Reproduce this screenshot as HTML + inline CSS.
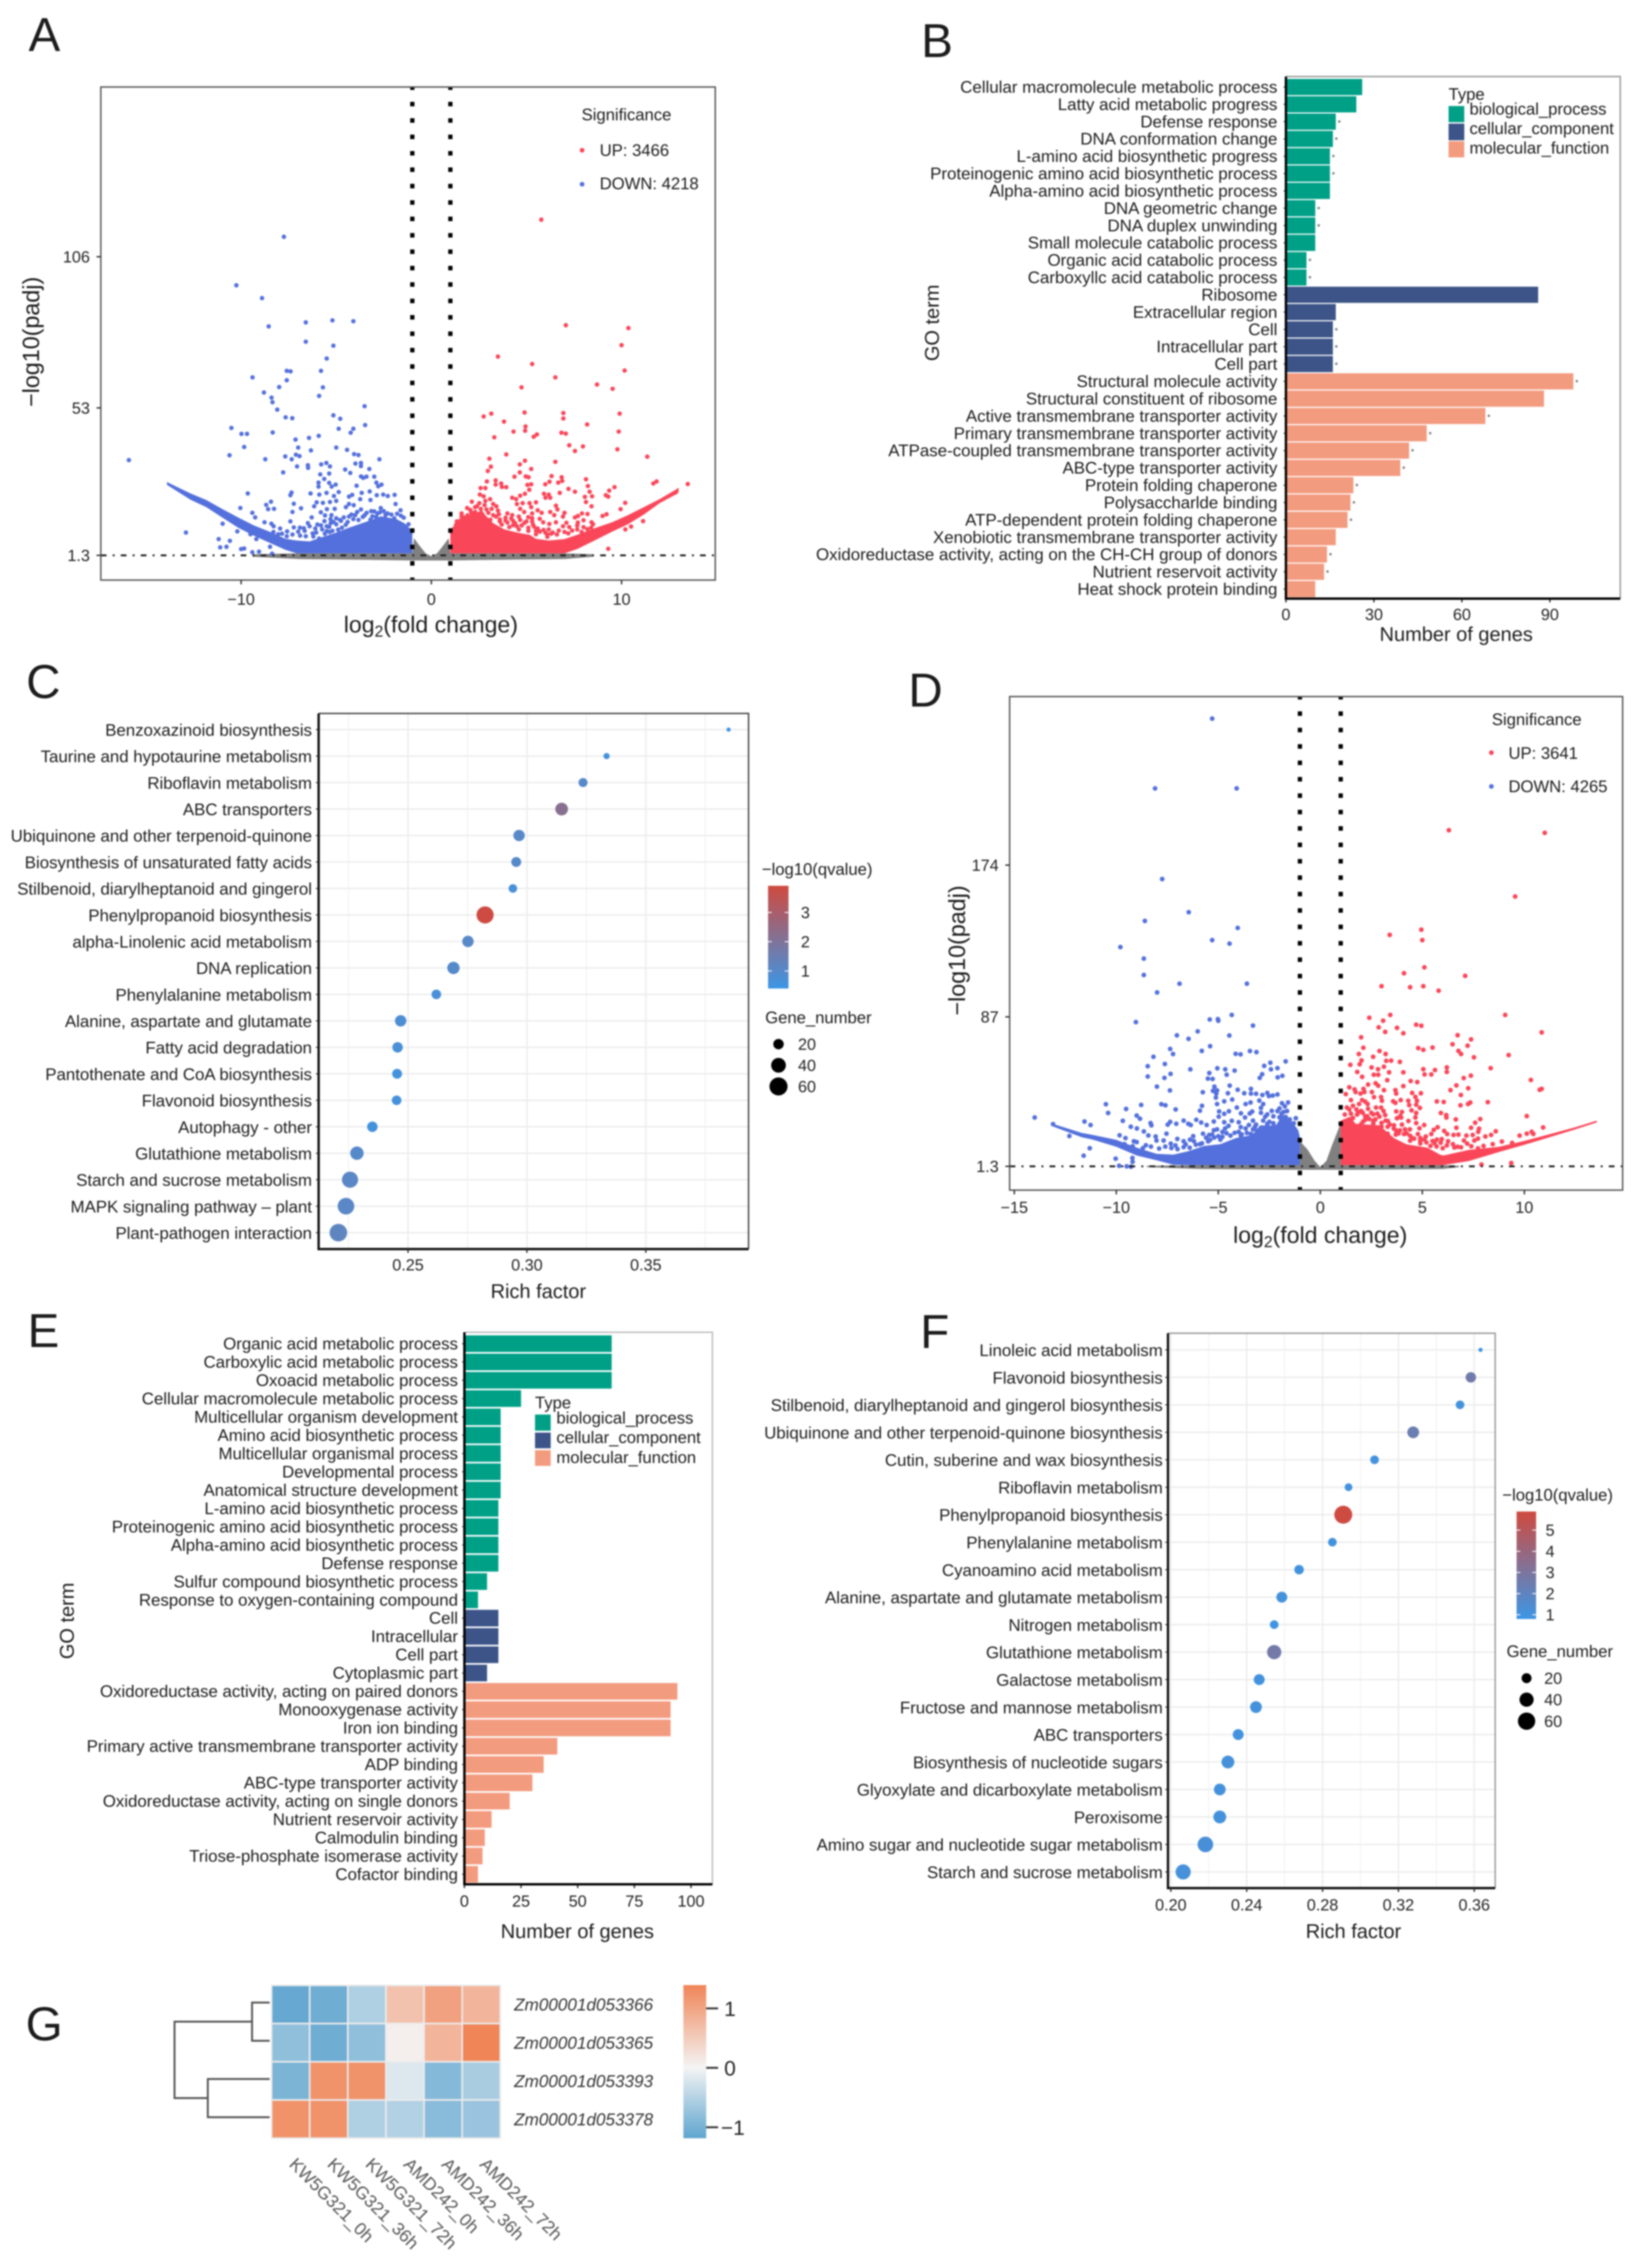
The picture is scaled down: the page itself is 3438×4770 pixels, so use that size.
<!DOCTYPE html>
<html lang="en">
<head>
<meta charset="utf-8">
<title>Transcriptome analysis figure panels A–G</title>
<style>
html,body{margin:0;padding:0;background:#fff;}
#figure{display:block;width:3438px;height:4770px;filter:blur(1.6px);font-family:"Liberation Sans",Arial,sans-serif;fill:#1c1c1c;}
</style>
</head>
<body>
<svg id="figure" xmlns="http://www.w3.org/2000/svg" width="3438" height="4770" viewBox="0 0 3438 4770">
  <rect x="0" y="0" width="3438" height="4770" fill="#fff"/>
  <text x="60" y="107" font-size="100">A</text>
  <text x="1937" y="120" font-size="100">B</text>
  <text x="55" y="1468" font-size="100">C</text>
  <text x="1910" y="1486" font-size="100">D</text>
  <text x="58" y="2833" font-size="100">E</text>
  <text x="1935" y="2835" font-size="100">F</text>
  <text x="54" y="4291" font-size="100">G</text>

  <g id="panelA"></g>
  <g id="panelB"></g>
  <g id="panelC"></g>
  <g id="panelD"></g>
  <g id="panelE"></g>
  <g id="panelF"></g>
  <g id="panelG"></g>

  <!-- Panel A static text -->
  <text x="906" y="1330" font-size="48.5" text-anchor="middle">log<tspan dy="9" font-size="33">2</tspan><tspan dy="-9">(fold change)</tspan></text>
  <text transform="translate(82,719) rotate(-90)" font-size="49" text-anchor="middle">−log10(padj)</text>
  <text x="1223" y="253" font-size="35">Significance</text>
  <circle cx="1224" cy="316" r="5" fill="#FA4659"/>
  <text x="1261" y="328" font-size="35">UP: 3466</text>
  <circle cx="1224" cy="387.5" r="5" fill="#5470DC"/>
  <text x="1261" y="398" font-size="35">DOWN: 4218</text>

  <!-- Panel B static text -->
  <text x="3062" y="1348" font-size="42" text-anchor="middle">Number of genes</text>
  <text transform="translate(1974,679) rotate(-90)" font-size="42" text-anchor="middle">GO term</text>
  <text x="3046" y="210" font-size="35">Type</text>
  <rect x="3046" y="223" width="33" height="34" fill="#00A087"/>
  <rect x="3046" y="260" width="33" height="35" fill="#3C5488"/>
  <rect x="3046" y="297" width="33" height="34" fill="#F39B7F"/>
  <text x="3090" y="241" font-size="35">biological_process</text>
  <text x="3090" y="282" font-size="35">cellular_component</text>
  <text x="3090" y="323" font-size="35">molecular_function</text>

  <!-- Panel C static text -->
  <text x="1132" y="2730" font-size="42" text-anchor="middle">Rich factor</text>
  <text x="1602" y="1840" font-size="35">−log10(qvalue)</text>
  <text x="1609" y="2152" font-size="35">Gene_number</text>

  <!-- Panel D static text -->
  <text x="2776" y="2614" font-size="48.5" text-anchor="middle">log<tspan dy="9" font-size="33">2</tspan><tspan dy="-9">(fold change)</tspan></text>
  <text transform="translate(2029,1999) rotate(-90)" font-size="49" text-anchor="middle">−log10(padj)</text>
  <text x="3137" y="1525" font-size="35">Significance</text>
  <circle cx="3136" cy="1583" r="5" fill="#FA4659"/>
  <text x="3172" y="1596" font-size="35">UP: 3641</text>
  <circle cx="3136" cy="1654" r="5" fill="#5470DC"/>
  <text x="3172" y="1666" font-size="35">DOWN: 4265</text>

  <!-- Panel E static text -->
  <text x="1214" y="4076" font-size="42" text-anchor="middle">Number of genes</text>
  <text transform="translate(155,3409) rotate(-90)" font-size="42" text-anchor="middle">GO term</text>
  <text x="1125" y="2962" font-size="35">Type</text>
  <rect x="1125" y="2975" width="33" height="34" fill="#00A087"/>
  <rect x="1125" y="3013" width="33" height="33" fill="#3C5488"/>
  <rect x="1125" y="3050" width="33" height="33" fill="#F39B7F"/>
  <text x="1170" y="2994" font-size="35">biological_process</text>
  <text x="1170" y="3035" font-size="35">cellular_component</text>
  <text x="1170" y="3077" font-size="35">molecular_function</text>

  <!-- Panel F static text -->
  <text x="2846" y="4076" font-size="42" text-anchor="middle">Rich factor</text>
  <text x="3159" y="3156" font-size="35">−log10(qvalue)</text>
  <text x="3168" y="3485" font-size="35">Gene_number</text>
</svg>

<script>
/* ---------- Panel A data: log2 fold change, -log10(padj) ---------- */
const aDownPoints = [[-7.75,113],[-10.25,96],[-8.9,91.5],[-8.55,81.6],[-6.6,83],[-5.2,83.7],[-4.1,83.4],[-6.6,76.2],[-5.15,74.8],[-5.5,70.3],[-7.6,66],[-7.4,65.8],[-5.8,66],[-9.4,63.7],[-7.6,62.7],[-8,60.3],[-8.8,58.4],[-5.7,60.2],[-5.9,57.2],[-8.4,56.6],[-8.35,55],[-15.9,34.7],[-12.9,9.3],
[-10.51,45.97],[-9.98,43.9],[-9.69,43.9],[-9.84,39.3],[-10.61,36.4],[-8.73,35],[-8.34,44.4],[-8.1,52.4],[-7.66,49.7],[-7.31,49.4],[-7.14,41.9],[-6.43,42.5],[-5.92,43.2],[-7,39.1],[-6.33,38.1],[-7.68,36],[-7.34,35],[-7.12,36.6],[-6.93,36.1],[-7.06,32.5],[-6.49,32.9],[-6.48,32],[-7.79,30.4],[-5.15,50.4],[-4.79,49.2],[-4.87,45.7],[-3.51,53.6],[-3.48,47],[-4.1,45.7],[-4.24,44.3],[-5,39.1],[-4.43,38.3],[-4.06,36.8],[-3.83,36.5],[-2.73,35],[-5.79,33.2],[-5.52,33.7],[-5.33,32.5],[-3.99,33.5],[-3.7,33.7],[-3.7,32.6],[-3.26,31.6],[-4.53,31.4],[-4.26,30.2],[-5.84,29.7],[-5.37,30],[-5.63,28.1],[-3.7,29],[-3.58,28.5],[-3.41,28.9],[-3,28.9],[-5.93,26.8],[-5.93,25.4],[-5.37,26.7],[-5.24,25.4],[-5.03,26.1],[-3.93,25.7],[-2.89,26.8],[-2.79,25.5],[-2.62,26.1],[-7.35,23.3],[-7.41,22.4],[-9.65,23],[-6.35,23],[-5.89,22.6],[-5.51,23.2],[-4.87,23.5],[-5.12,22.1],[-4.16,22.5],[-4.33,21.9],[-3.66,23.2],[-3.74,21],[-3.24,23.7],[-3.2,20.7],[-2.87,22.4],[-2.53,22.6],[-2.29,22.1],[-1.93,22.5],[-8.43,20.1],[-8.68,19],[-8.58,17.5],[-8.27,17.6],[-10.04,17.9],[-7.23,19.4],[-6.85,17.8],[-6.03,19.9],[-5.7,19.7],[-5.33,20],[-5,20.4],[-6.16,18.5],[-4.33,19.3],[-4.49,18.2],[-4.08,18.9],[-1.88,19.3],[-3.7,17.4],[-3.16,16.8],[-2.66,17.9],[-7.3,16.5],[-5.49,17.5],[-5.08,17.6],[-1.62,17.1],[-9.41,16.2],[-9.26,14.6],[-5.81,16.4],[-5.59,15.3],[-7.41,13.2],[-7.23,11.1],[-8.77,12.9],[-8.41,12.4],[-8.29,11.5],[-10.97,12.4],[-6.29,14.6],[-6.49,12.6],[-5.99,12.1],[-5.62,13.3],[-10.2,9.7],[-7.95,10.7],[-7.58,9.7],[-6.91,11],[-6.66,9.9],[-6.24,9],[-5.74,10.4],[-11.18,7],[-10.59,6.4],[-11.1,4.1],[-10.77,4.3],[-10,3.5],[-9.84,3.7],[-9.41,2.4],[-9.06,2.6],[-8.48,4.3],[-8.37,1.9],[-9.2,7],[-9.51,8.7],
[-5.25,15.4],[-5,14.3],[-4.75,13.4],[-5.29,12.6],[-5.37,11.3],[-4.33,14.9],[-4,15.4],[-3.5,15.4],[-3.83,13.7],[-2.83,16],[-2.41,15.4],[-1.95,14.3],
[-5.3,14],[-5.15,13],[-5,12.2],[-4.8,13.7],[-4.6,14.6],[-4.4,13],[-4.2,15.6],[-4.1,14],[-3.9,16.5],[-3.6,14.8],[-3.4,16.2],[-3.1,15],[-3,16.7],[-2.9,14.8],[-2.7,16.4],[-2.5,16.8],[-2.3,16],[-2.1,15.6],[-1.8,15.9],[-1.6,15.2],[-1.45,14.5],[-1.2,12.2],[-5.5,11.5],[-5.8,11.8],[-6.1,10.7],[-6.4,11.5],[-6.7,10.8],[-7,9.6],[-7.3,8.6],[-7.6,8],[-6.05,9.3],[-5.5,9.8],[-5.2,9.9],[-4.7,11],[-4.5,12],[-3.2,13.8],[-8.05,8.7],[-8.3,9.5],[-7.85,8.9],[-6.9,8.2],[-6.6,8],[-6.2,7.9],[-5.9,7.2],[-5.6,8.9],[-5.35,9.5],[-4.9,10.3]];
const aUpPoints = [[5.78,119],[7.07,82],[10.36,81],[10,75],[3.5,71],[5.3,68.4],[10.16,66.1],[6.52,63.7],[8.71,61.2],[4.74,60.2],[9.53,59.7],[13.48,26.3],[12.85,23.4],
[2.75,50],[3.15,51],[3.82,48.2],[4.9,51.4],[6.94,51.2],[6.94,49.3],[9.9,51],[8.19,47.2],[4.32,44.7],[4.95,46.5],[4.93,45],[3.31,42.7],[5.38,42.9],[5.55,43.7],[6.84,44.3],[7.07,44],[9.85,44.7],[7.25,39.9],[7.55,37.9],[7.97,39.5],[9.78,38.5],[3.94,36.7],[3.05,35.2],[11.35,35.9],[4.92,34.5],[4.65,33.2],[6.52,34.1],[3.13,32.4],[2.97,30.9],[5.25,31.6],[4.65,30.4],[4.37,28.9],[4.96,29],[5.11,28.7],[6.32,29.1],[6.85,28.7],[6.67,26.8],[6.88,27.4],[8.13,28],[2.92,27.2],[3.38,27.6],[3.38,26.1],[3.67,26.5],[3.71,25.3],[3.94,25.2],[11.84,27.2],[11.67,26.5],[5.05,26],[5.25,26.2],[5.99,26.2],[6.21,27.1],[7.21,24.6],[7.55,23.6],[8.23,25.6],[8.32,23.6],[8.45,22],[9.63,25.2],[9.35,24],[9.17,22.4],[9.3,21.9],[2.59,24.9],[2.84,24.9],[2.55,22.6],[2.75,22],[5.15,24.3],[4.92,22.9],[4.67,22.2],[4.25,21.5],[4.46,21],[6.75,23.2],[5.92,22.9],[6.17,22.6],[6,21.5],[6.25,21.5],[8.07,21.8],[8.13,20],[8.42,18.5],[10.19,19.7],[9.95,17.5],[3.09,21],[2.13,20.1],[2.52,19.6],[2.84,20.4],[3.25,19.3],[3.42,18.5],[1.88,17.9],[1.59,16],[4.5,19.3],[4.8,19.6],[5.16,19.6],[5.5,19.9],[6.55,18.7],[6.63,17.4],[7,16.2],[6.25,16.5],[6.46,15.4],[6.92,14.9],[7.92,16],[8.21,15.8],[7.55,14.6],[7.71,15.1],[9,15.1],[9.21,15.7],[4.67,17.6],[4.88,16.5],[5.25,18.2],[5.3,16],[5.59,17.1],[5.8,16.2],[5.3,14.3],[3.17,17.6],[3.25,15.4],[3.55,15.7],[4,16],[4.25,15.4],[1.34,13.2],[1.59,14.9],[5.88,12.9],[6.55,12.9],[8.42,12.9],[8.5,12.2],[11.13,13.3],[5.34,12.1],[5.59,10.7],[6.92,11.5],[7.25,11.2],[7.67,11.8],[8,11.2],[7.67,10.4],[4.67,13.7],[4.5,11.5],[4.75,11.8],[6.17,10.4],[6.38,9.3],[5.5,8.7],[6.09,8.7],[10.5,11.4],[10.2,10.4],[9.3,3.6],
[3.6,13.9],[4,12.8],[4.3,11.9],[3.9,14.5],[4.3,13.4],[5,13.2],[5.1,11],[2.3,18.2],[2.05,17.2],
[1.3,12],[1.5,13.4],[1.7,14.6],[1.9,15.3],[2.1,16.2],[2.3,16.5],[2.6,17.6],[2.9,17.4],[3,16.2],[3.4,14.9],[3.6,13.2],[3.7,12.1],[3.9,13.5],[4.1,11.2],[4.4,12.6],[4.6,10.4],[4.9,12.7],[5.1,9.9],[5.3,13.2],[5.4,11.4],[5.5,10],[5.7,9.6],[5.9,10.2],[6,9.2],[6.3,8.9],[6.6,8.6],[6.7,10],[7,9.5],[7.2,9],[7.4,10],[7.9,9.5],[8.2,10.5],[8.4,11],[4.2,14.2],[4.6,14.9],[5.1,14.7],[5.7,14.1],[6.2,12.3],[7.1,12.7],[7.7,12.8],[8,13.6],[3.1,13.8],[2.4,18.5],[2.8,18.9],[3.5,17],[6.1,7.8]];
const aDownBandX = [-13.9,-12.66,-11.83,-11,-10.16,-9.33,-8.5,-7.66,-7.08,-6.4,-5.6,-5,-4.33,-3.5,-3.24,-2.66,-1.83,-1.4,-1];
const aDownBandTop = [27,23,20.7,17.6,14.6,11.8,9.6,7.1,6.5,6.2,8,9.3,11,12.9,13.5,15,14,12.5,9.9];
const aDownBandBottom = [26,20.8,18.2,14.6,11,8.2,5.7,3.2,2,2,2,2,2,2,2,2,2,2,2];
const aUpBandX = [1,1.59,2.67,2.84,3.25,3.84,4.5,5.17,5.5,6.17,7,7.67,8.67,9.5,10.34,11.17,12,12.84,13];
const aUpBandTop = [10.4,14.3,17.1,15.4,12.6,10.4,9.3,8.5,7.1,6.5,7,8.5,11,12.9,15.4,18.2,21,24.3,25];
const aUpBandBottom = [2,2,2,2,2,2,2,2,2,2,2,3.5,6.8,9.6,12.2,15.6,19.6,22.6,23.5];
const aGreyX = [-9.4,-7,-3,-1,-0.91,-0.6,-0.3,0,0.3,0.6,0.91,1,3,7,8.5];
const aGreyTop = [1.7,2,2,2,7.3,4.5,2,1,2,4.5,7.3,2,2,2,1.7];
const aGreyBottom = [0.8,0,-0.3,-0.5,-0.5,-0.5,-0.5,-0.5,-0.5,-0.5,-0.5,-0.5,-0.3,0,0.8];
const aXTicks = [-10,0,10];
const aXTickLabels = ["−10","0","10"];
const aYTicks = [1.3,53,106];
const aYTickLabels = ["1.3","53","106"];

/* ---------- Panel D data ---------- */
const dDownPoints = [[-5.3,258],[-8.1,218],[-4.1,218],[-7.75,166],[-6.45,147],[-8.6,142],[-4.05,138],[-5.3,131],[-4.45,129],[-9.8,127],[-8.65,120.4],[-8.65,111],[-6.9,106],[-3.6,106],[-8,101],[-14,29.3],[-13.1,25.5],[-11.56,27],[-11.26,25],[-12.3,18.7],[-11.6,7.4],[-11.3,11.7],
[-9.04,84],[-4.34,88.1],[-5.42,85.5],[-5.02,85.7],[-5,84.8],[-3.3,82],[-6.01,78.7],[-7.03,76.4],[-6.46,74.4],[-4.46,76.3],[-5.4,70.2],[-5.81,67.5],[-7.36,68.6],[-7.22,65.7],[-8.18,64.1],[-4.15,65.8],[-3.91,65.5],[-3.45,67.4],[-3.13,66.8],[-8.46,58.7],[-7.62,60],[-1.7,61.5],[-2.45,60.7],[-2.75,58.9],[-2.42,56.9],[-2.1,57.6],[-6.37,56.9],[-5.05,57.5],[-4.66,56.9],[-4.2,56.2],[-5.44,54.8],[-4.59,53.8],[-8.46,52.8],[-7.64,52],[-7.34,54.3],[-5.51,51.6],[-5.28,51.4],[-2.85,54.1],[-2.97,52],[-2.09,52.3],[-1.86,53.2],[-8.01,47],[-5.19,47],[-4.44,47.6],[-7.37,44.8],[-5.76,43.8],[-5.26,44.6],[-5.06,44.8],[-5.1,43],[-5.12,40.7],[-4.53,43.2],[-4.05,45.2],[-3.73,43.2],[-3.4,45.7],[-3.4,43],[-3.15,42.9],[-2.84,42.2],[-2.6,43.4],[-2.52,41.6],[-2.33,41.9],[-2.1,42.5],[-4.71,38.6],[-4.32,39.6],[-2.99,39],[-2.8,37],[-1.88,37.5],[-1.58,37.9],[-1.74,35.7],[-10.51,36.9],[-10.4,31.9],[-9.52,34.2],[-8.78,36.5],[-7.79,36.9],[-7.59,36.3],[-7.09,33.9],[-5.8,36],[-5.9,33.2],[-5.06,37],[-3.66,37],[-3.42,37.9],[-4.09,35],[-4.96,32.8],[-4.71,31.4],[-4.48,32.9],[-3.89,31.7],[-3.69,29.3],[-3.46,31.6],[-3.34,32.7],[-2.91,34.8],[-2.91,32],[-2.6,31.1],[-2.38,33.1],[-1.63,33],[-1.2,28.9],[-4.98,29.8],[-9,30.4],[-8.84,28.6],[-9.68,27.4],[-8.32,26.1],[-8.28,24.8],[-7.48,25.2],[-7.36,26.8],[-7.06,25.7],[-6.7,27.5],[-6.47,25.7],[-6.35,25],[-6.08,28],[-5.84,26.4],[-5.57,25],[-5.22,27],[-4.71,26.6],[-4.34,27.4],[-4,26.6],[-3.3,27.5],[-9.29,24],[-8.99,23],[-8.65,21.3],[-8.43,19],[-9.84,19.1],[-9.55,17.5],[-8.07,18.4],[-8.03,16.1],[-7.54,20],[-6.23,18.6],[-5.75,20],[-5.45,19.3],[-9.14,15.7],[-9,15.2],[-8.55,13.4],[-7.68,16.1],[-7.33,14.3],[-7.01,17],[-6.7,15.7],[-6.39,16.6],[-10.03,5.7],[-9.21,6.1],[-9.2,3.9],[-9.86,1.6],[-9.49,1.3],[-9.28,1.1],[-5.06,22.5],[-4.67,23],[-5.22,22],[-4.9,16.6],[-4,21.1],[-3.66,23],[-3.15,25.2],[-2.8,27.5],[-1.9,31.6],[-5.9,14],[-5.4,16.5],[-3.85,19.6],[-3.3,22.5],[-2.5,26.8],[-2,29.4],
[-7.9,11.5],[-7.6,12.6],[-7.3,11.8],[-7,11.2],[-6.7,12.3],[-6.4,12],[-6.1,13.7],[-5.8,14.5],[-5.5,15.6],[-5.2,17.8],[-5,18.6],[-4.8,18.2],[-4.6,20.3],[-4.4,18.9],[-4.2,20.5],[-3.9,18.9],[-3.6,20.5],[-3.4,19.9],[-3.1,21.6],[-2.9,22.6],[-2.6,25.7],[-2.3,26],[-2.2,23.8],[-1.9,27.5],[-1.7,29.6],[-1.5,28.2],[-1.3,26],[-4.5,24.5],[-3.9,23.8],[-3.5,25],[-2.7,29.8],[-2.3,30],[-4.8,21],[-5.3,19.5],[-5.6,17.7],[-6.2,15.8],[-6.6,13.9],[-7.1,13.3],[-8.3,12.6],[-8.7,11.7],[-9.2,12.8],[-9.6,14],[-3.2,24],[-2.1,33],[-2,34.5],[-1.8,32.5]];
const dUpPoints = [[6.3,194],[11,192.5],[9.55,156],[4.95,137],[3.4,134],[5,131],[5.1,115.4],[4.1,112],[7.1,110.5],[3,104.6],[4.4,104],[5.05,104.6],[5.8,102],
[3.43,88.1],[2.4,86.5],[3.08,84.8],[2.86,81],[3.18,78.4],[3.76,80.7],[4.07,77.6],[4.7,82.5],[4.95,81.9],[9.06,88.1],[10.85,78.1],[2,75.3],[6.73,76.5],[7.39,74.1],[7.22,70.5],[6.48,71.3],[2.11,69.3],[4.8,69.1],[5.05,68.1],[5.5,69.4],[6.77,67.5],[6.9,65.7],[9.23,65.1],[2.9,67.4],[1.89,65.7],[3.2,65.7],[2.59,64.1],[7.53,63.8],[2.02,62],[1.93,59.8],[3.23,61.8],[3.47,61.9],[3.9,61.2],[1.47,59.5],[3.12,58.4],[2.51,58],[2.83,57],[5.05,57],[5.62,56.5],[6.2,58],[6.2,55.4],[8.35,57.6],[1.81,55.4],[3.37,55.2],[4.07,55.2],[2.62,53.8],[2.84,53.8],[5.11,54],[5.44,54],[2.05,52.6],[7.38,53.3],[7.03,51.9],[3.28,50.7],[4.43,50.2],[4.75,49.6],[10.32,50.8],[2.34,48.2],[2.71,48.9],[2.84,47.5],[4.07,47.3],[6.67,47.7],[7.25,46.1],[1.42,46.6],[1.68,45.4],[2.12,45.7],[6.38,45],[3.12,45],[2.53,43.9],[3.68,45],[3.72,43],[4.5,43.4],[4.93,43.2],[10.75,45.2],[10.85,45.7],[6.89,42.2],[1.25,42.7],[1.5,39.3],[1.73,43.9],[1.97,43],[2.16,43.9],[2.63,41],[2.98,41],[3.02,38.9],[4.66,41.1],[4.74,38.9],[3.57,38.6],[3.68,37.7],[3.94,39.3],[4.31,38.9],[4.36,36.4],[4.7,36.6],[4.88,34.8],[5.71,38.5],[6.05,38.2],[8.21,38.1],[6.87,36.3],[7.24,37],[7.35,37.9],[2.05,39.3],[2.2,38.4],[2.32,37],[2.73,35],[2.98,35],[1.42,33.9],[2.34,34.3],[4.47,33.4],[4.7,31.9],[3.72,32.8],[4,32.5],[3.92,30.2],[3.76,28.9],[3.96,29.3],[5.91,31.9],[6.17,30.7],[6.18,29.3],[10.12,30.1],[7.84,28.4],[7.59,26.3],[6.64,28.2],[2.9,29.8],[3.18,30.7],[2.59,31.1],[2.4,28.4],[1.77,33.9],[1.85,32],[2.08,32],[4.32,27.3],[3.31,27.3],[4.66,29.3],[4.7,26.1],[5.09,25],[4.86,23.1],[3.61,24.8],[4,25.2],[4.15,22.5],[4.39,22.5],[5.75,23.7],[5.56,22.2],[5.44,19.8],[6.07,21.6],[6.22,19.8],[6.67,23.4],[6.53,19.3],[6.77,19.5],[7.39,23.4],[7.78,22.9],[7.74,21.1],[7.47,19.3],[7.16,18.9],[8.6,21.4],[8.37,19.3],[8.09,18.4],[10.92,23.6],[10.12,20],[10.36,21.1],[10.44,19.9],[9.77,18.9],[3.84,20.2],[4.23,20.2],[4.78,19.8],[5.17,18.4],[5.71,16.6],[5.95,16.9],[6.26,15.7],[7.04,16.1],[7.55,16.1],[7.73,17.2],[6.57,12.1],[6.73,12.5],[7.2,14.3],[7.73,11.6],[8.45,14],[7.9,2.3],[9.36,3.2],
[2.6,27.5],[2.2,30],[2.1,27],[2.6,25.8],[3.3,24],[3.7,22],[4.5,17.5],[4.9,15.8],[5.2,15],[5.6,14.6],
[1.2,31],[1.5,31.5],[1.3,35],[1.6,29],[1.8,31],[2,33],[2.2,28],[2,25.5],[2.3,30],[2.7,28.2],[3,26.2],[3.2,27.5],[3.4,25.3],[3.6,23],[3,24],[2.6,26.5],[3.9,21.9],[4.1,19.8],[4.4,18.8],[4.6,17.2],[4.9,17.5],[5.1,16.7],[5.5,15.8],[5.9,14.8],[6.2,13.3],[6.5,14],[6.9,12.2],[7.4,12.8],[8,13],[8.9,15.5],[9.4,14.7],[3.3,20],[3.7,19.5],[4.4,16],[4.9,14.4],[5.4,13],[5.7,12.7],[6,11.7],[1.9,37],[1.6,36],[2.5,32],[2.8,31.5],[3.1,33],[1.4,28]];
const dDownBandX = [-13.07,-11.7,-11.15,-10,-9,-8.03,-7.2,-6.47,-5.69,-4.9,-4.15,-3.34,-2.95,-2.17,-1.86,-1.39,-1.08,-1];
const dDownBandTop = [25.5,20.5,19.3,16.5,12,8.5,8,10,13,14,17.5,19.3,24.8,24.8,31,27,22,18];
const dDownBandBottom = [24,18,16.6,12.5,7.5,4.8,2.2,2,2,2,2,2,2,2,2,2,2,2];
const dUpBandX = [1,1.46,1.73,2.9,3.61,4.23,5.25,5.87,6.03,7.27,8.76,9.93,11.1,12.5,13.55];
const dUpBandTop = [27.5,29.8,25.7,24.8,17.5,13.9,12,8,7.5,10.7,12.5,15.7,19.3,23.7,27.5];
const dUpBandBottom = [2,2,2,2,2,2,2,2,2,4.3,9.5,13.4,17.5,22.5,26.5];
const dGreyX = [-8.5,-6,-2,-1,-1,-0.63,-0.28,0,0.3,0.56,0.9,1,1,2,6,6.8];
const dGreyTop = [1.6,2,2,2,15.7,11,4.5,0.8,4.5,13,23,26,2,2,2,1.6];
const dGreyBottom = [0.8,-0.2,-0.7,-0.7,-0.7,-0.7,-0.7,-0.7,-0.7,-0.7,-0.7,-0.7,-0.7,-0.7,-0.2,0.8];
const dXTicks = [-15,-10,-5,0,5,10];
const dXTickLabels = ["−15","−10","−5","0","5","10"];
const dYTicks = [1.3,87,174];
const dYTickLabels = ["1.3","87","174"];

/* ---------- Panel B data ---------- */
const bTerms = ["Cellular macromolecule metabolic process","Latty acid metabolic progress","Defense response","DNA conformation change","L-amino acid biosynthetic progress","Proteinogenic amino acid biosynthetic process","Alpha-amino acid biosynthetic process","DNA geometric change","DNA duplex unwinding","Small molecule catabolic process","Organic acid catabolic process","Carboxyllc acid catabolic process","Ribosome","Extracellular region","Cell","Intracellular part","Cell part","Structural molecule activity","Structural constituent of ribosome","Active transmembrane transporter activity","Primary transmembrane transporter activity","ATPase-coupled transmembrane transporter activity","ABC-type transporter activity","Protein folding chaperone","Polysaccharlde binding","ATP-dependent protein folding chaperone","Xenobiotic transmembrane transporter activity","Oxidoreductase activity, acting on the CH-CH group of donors","Nutrient reservoit activity","Heat shock protein binding"];
const bCounts = [26,24,17,16,15,15,15,10,10,10,7,7,86,17,16,16,16,98,88,68,48,42,39,23,22,21,17,14,13,10];
const bTypeSizes = [12,5,13];
const bStarred = [0,0,1,1,1,1,0,1,1,0,1,1,0,0,1,1,1,1,0,1,1,1,1,1,1,1,0,1,1,0];
const bXTicks = [0,30,60,90];
const bXTickLabels = ["0","30","60","90"];

/* ---------- Panel E data ---------- */
const eTerms = ["Organic acid metabolic process","Carboxylic acid metabolic process","Oxoacid metabolic process","Cellular macromolecule metabolic process","Multicellular organism development","Amino acid biosynthetic process","Multicellular organismal process","Developmental process","Anatomical structure development","L-amino acid biosynthetic process","Proteinogenic amino acid biosynthetic process","Alpha-amino acid biosynthetic process","Defense response","Sulfur compound biosynthetic process","Response to oxygen-containing compound","Cell","Intracellular","Cell part","Cytoplasmic part","Oxidoreductase activity, acting on paired donors","Monooxygenase activity","Iron ion binding","Primary active transmembrane transporter activity","ADP binding","ABC-type transporter activity","Oxidoreductase activity, acting on single donors","Nutrient reservoir activity","Calmodulin binding","Triose-phosphate isomerase activity","Cofactor binding"];
const eCounts = [65,65,65,25,16,16,16,16,16,15,15,15,15,10,6,15,15,15,10,94,91,91,41,35,30,20,12,9,8,6];
const eTypeSizes = [15,4,11];
const eStarred = [];
const eXTicks = [0,25,50,75,100];
const eXTickLabels = ["0","25","50","75","100"];

/* ---------- Panel C data ---------- */
const cPathways = ["Benzoxazinoid biosynthesis","Taurine and hypotaurine metabolism","Riboflavin metabolism","ABC transporters","Ubiquinone and other terpenoid-quinone","Biosynthesis of unsaturated fatty acids","Stilbenoid, diarylheptanoid and gingerol","Phenylpropanoid biosynthesis","alpha-Linolenic acid metabolism","DNA replication","Phenylalanine metabolism","Alanine, aspartate and glutamate","Fatty acid degradation","Pantothenate and CoA biosynthesis","Flavonoid biosynthesis","Autophagy - other","Glutathione metabolism","Starch and sucrose metabolism","MAPK signaling pathway – plant","Plant-pathogen interaction"];
const cRichFactor = [0.3848,0.3335,0.3236,0.3146,0.2967,0.2955,0.2941,0.2824,0.2752,0.2691,0.2619,0.2469,0.2456,0.2454,0.2452,0.235,0.2285,0.2256,0.2239,0.2207];
const cGeneNumber = [3.4,7,15,30,24,18,13.5,54,24,28,17,24,20,18,17,20,33,48,51,57];
const cQValue = [0.5,0.6,1,2.2,1.05,1,0.7,3.85,1.05,1,0.7,0.8,0.7,0.6,0.6,0.6,1,1.1,1.1,1.2];
const cXTicks = [0.25,0.30,0.35];
const cXTickLabels = ["0.25","0.30","0.35"];
const cColorTicks = [1,2,3];
const cSizeTicks = [20,40,60];

/* ---------- Panel F data ---------- */
const fPathways = ["Linoleic acid metabolism","Flavonoid biosynthesis","Stilbenoid, diarylheptanoid and gingerol biosynthesis","Ubiquinone and other terpenoid-quinone biosynthesis","Cutin, suberine and wax biosynthesis","Riboflavin metabolism","Phenylpropanoid biosynthesis","Phenylalanine metabolism","Cyanoamino acid metabolism","Alanine, aspartate and glutamate metabolism","Nitrogen metabolism","Glutathione metabolism","Galactose metabolism","Fructose and mannose metabolism","ABC transporters","Biosynthesis of nucleotide sugars","Glyoxylate and dicarboxylate metabolism","Peroxisome","Amino sugar and nucleotide sugar metabolism","Starch and sucrose metabolism"];
const fRichFactor = [0.3633,0.3582,0.3525,0.3278,0.3074,0.2937,0.2909,0.2852,0.2676,0.2585,0.2545,0.2545,0.2466,0.2449,0.2355,0.2301,0.2258,0.2258,0.2182,0.2065];
const fGeneNumber = [3.7,22,15,28,15,12,65,15,18,24,15,41,24,28,24,33,28,33,49,46];
const fQValue = [0.9,2.6,1.05,2.4,1.05,1,5.8,1,1,1.1,0.9,2.7,1.05,1.1,1.05,1.15,1.1,1.1,1.25,1.15];
const fXTicks = [0.20,0.24,0.28,0.32,0.36];
const fXTickLabels = ["0.20","0.24","0.28","0.32","0.36"];
const fColorTicks = [1,2,3,4,5];
const fSizeTicks = [20,40,60];

/* ---------- Panel G data ---------- */
const gGenes = ["Zm00001d053366","Zm00001d053365","Zm00001d053393","Zm00001d053378"];
const gSamples = ["KW5G321_0h","KW5G321_36h","KW5G321_72h","AMD242_0h","AMD242_36h","AMD242_72h"];
const gRow1 = [-1.26,-1.18,-0.61,0.63,1.05,0.81];
const gRow2 = [-0.89,-1.18,-0.89,0.06,0.81,1.4];
const gRow3 = [-1.07,1.24,1.24,-0.21,-0.99,-0.67];
const gRow4 = [1.24,1.24,-0.61,-0.58,-0.95,-0.81];
const gColorTicks = [1,0,-1];
const gColorTickLabels = ["1","0","−1"];
const gDendroHeights = [37,130,200];

/* ---------- Drawing helpers ---------- */
const NS = "http://www.w3.org/2000/svg";
function mk(parent, tag, attrs, name) {
  const el = document.createElementNS(NS, tag);
  for (const k in attrs) el.setAttribute(k, attrs[k]);
  
  
  parent.appendChild(el);
  return el;
}
function txt(parent, x, y, str, size, anchor, fill, name, extra) {
  const el = mk(parent, 'text', Object.assign({x: x, y: y, 'font-size': size, 'text-anchor': anchor, fill: fill}, extra || {}), name);
  el.textContent = str;
  return el;
}
function linear(d0, r0, d1, r1) {
  return v => r0 + (v - d0) * (r1 - r0) / (d1 - d0);
}
function hexRgb(h) { return [1,3,5].map(i => parseInt(h.substr(i,2),16)); }
function lerpColor(a, b, t) {
  t = Math.max(0, Math.min(1, t));
  const A = hexRgb(a), B = hexRgb(b);
  return 'rgb(' + A.map((c,i) => Math.round(c + (B[i]-c)*t)).join(',') + ')';
}
function drawBand(g, xs, top, bottom, sx, sy, color, name) {
  const up = xs.map((x,i) => sx(x).toFixed(1) + ',' + sy(top[i]).toFixed(1));
  const low = xs.map((x,i) => sx(x).toFixed(1) + ',' + sy(bottom[i]).toFixed(1)).reverse();
  mk(g, 'polygon', {points: up.concat(low).join(' '), fill: color}, name);
}

/* ---------- Volcano ---------- */
function drawVolcano(o) {
  const g = document.getElementById(o.id);
  const b = o.box;
  drawBand(g, o.greyX, o.greyTop, o.greyBottom, o.sx, o.sy, '#808080', o.key + '-not-significant-cloud');
  drawBand(g, o.downX, o.downTop, o.downBottom, o.sx, o.sy, '#5470DC', o.key + '-down-dense-cloud');
  drawBand(g, o.upX, o.upTop, o.upBottom, o.sx, o.sy, '#FA4659', o.key + '-up-dense-cloud');
  o.downPts.forEach(p => {
    mk(g, 'circle', {cx: o.sx(p[0]).toFixed(1), cy: o.sy(p[1]).toFixed(1), r: o.r, fill: '#5470DC'}, o.key + '-down-gene-point');
  });
  o.upPts.forEach(p => {
    mk(g, 'circle', {cx: o.sx(p[0]).toFixed(1), cy: o.sy(p[1]).toFixed(1), r: o.r, fill: '#FA4659'}, o.key + '-up-gene-point');
  });
  [-1, 1].forEach(v => {
    mk(g, 'line', {x1: o.sx(v), x2: o.sx(v), y1: b.y0, y2: b.y1, stroke: '#000', 'stroke-width': 9, 'stroke-dasharray': '9.5 25', 'stroke-dashoffset': 3.4}, o.key + '-fold-change-threshold');
  });
  mk(g, 'line', {x1: b.x0, x2: b.x1, y1: o.sy(1.3), y2: o.sy(1.3), stroke: '#222', 'stroke-width': 4, 'stroke-dasharray': '12 13 4 13'}, o.key + '-padj-threshold');
  mk(g, 'rect', {x: b.x0, y: b.y0, width: b.x1-b.x0, height: b.y1-b.y0, fill: 'none', stroke: '#555', 'stroke-width': 3}, o.key + '-plot-frame');
  o.xTicks.forEach((v,i) => {
    mk(g, 'line', {x1: o.sx(v), x2: o.sx(v), y1: b.y1, y2: b.y1+9, stroke: '#333', 'stroke-width': 3}, o.key + '-x-tick');
    txt(g, o.sx(v), b.y1+o.tickDy, o.xLabels[i], 34, 'middle', '#222', o.key + '-x-tick-label');
  });
  o.yTicks.forEach((v,i) => {
    mk(g, 'line', {x1: b.x0-9, x2: b.x0, y1: o.sy(v), y2: o.sy(v), stroke: '#333', 'stroke-width': 3}, o.key + '-y-tick');
    txt(g, b.x0-23, o.sy(v)+12, o.yLabels[i], 34, 'end', '#222', o.key + '-y-tick-label');
  });
}

/* ---------- Bars ---------- */
function drawBars(o) {
  const g = document.getElementById(o.id);
  const b = o.box;
  const palette = ['#00A087','#3C5488','#F39B7F'];
  const typeOf = [];
  o.typeSizes.forEach((n,t) => { for (let i=0;i<n;i++) typeOf.push(t); });
  const rowY = linear(0, o.y0, o.terms.length-1, o.y1);
  mk(g, 'path', {d: 'M'+b.x0+' '+b.y0+'H'+b.x1+'V'+b.y1, fill: 'none', stroke: o.frame, 'stroke-width': 3}, o.key + '-plot-frame');
  o.terms.forEach((t,i) => {
    const y = rowY(i);
    mk(g, 'rect', {x: o.sx(0), y: y-o.barH/2, width: o.sx(o.counts[i])-o.sx(0), height: o.barH, fill: palette[typeOf[i]]}, o.key + '-bar');
    txt(g, o.labelX, y+o.labelDy, t, o.size, 'end', '#1c1c1c', o.key + '-go-term-label');
    mk(g, 'line', {x1: b.x0-5, x2: b.x0, y1: y, y2: y, stroke: '#333', 'stroke-width': 2}, o.key + '-y-tick');
    if (o.stars[i]) {
      txt(g, o.sx(o.counts[i])+4, y+8, '*', 17, 'start', '#333', o.key + '-significance-star');
    }
  });
  o.xTicks.forEach((v,i) => {
    mk(g, 'line', {x1: o.sx(v), x2: o.sx(v), y1: b.y1, y2: b.y1+8, stroke: '#333', 'stroke-width': 3}, o.key + '-x-tick');
    txt(g, o.sx(v), o.tickY, o.xLabels[i], 34, 'middle', '#222', o.key + '-x-tick-label');
  });
  mk(g, 'line', {x1: b.x0, x2: b.x0, y1: b.y0, y2: b.y1+2, stroke: '#000', 'stroke-width': 5}, o.key + '-y-axis-line');
  mk(g, 'line', {x1: b.x0-2, x2: b.x1, y1: b.y1, y2: b.y1, stroke: '#000', 'stroke-width': 5}, o.key + '-x-axis-line');
}

/* ---------- Dot plots ---------- */
function drawDots(o) {
  const g = document.getElementById(o.id);
  const b = o.box;
  const rowY = linear(0, o.y0, o.names.length-1, o.y1);
  const qColor = q => lerpColor('#3C96E6', '#D04A3F', (q-o.qMin)/(o.qMax-o.qMin));
  const step = o.xTicks[1]-o.xTicks[0];
  o.xTicks.forEach(v => {
    mk(g, 'line', {x1: o.sx(v), x2: o.sx(v), y1: b.y0, y2: b.y1, stroke: '#ececec', 'stroke-width': 3}, o.key + '-major-gridline');
  });
  o.xTicks.concat([o.xTicks[0]-step]).forEach(v => {
    const m = o.sx(v+step/2);
    if (m > b.x0 && m < b.x1) mk(g, 'line', {x1: m, x2: m, y1: b.y0, y2: b.y1, stroke: '#f1f1f1', 'stroke-width': 2}, o.key + '-minor-gridline');
  });
  o.names.forEach((n,i) => {
    const y = rowY(i);
    mk(g, 'line', {x1: b.x0, x2: b.x1, y1: y, y2: y, stroke: '#ececec', 'stroke-width': 3}, o.key + '-row-gridline');
    txt(g, o.labelX, y+13, n, o.size, 'end', '#1c1c1c', o.key + '-pathway-label');
    mk(g, 'line', {x1: b.x0-6, x2: b.x0, y1: y, y2: y, stroke: '#333', 'stroke-width': 2}, o.key + '-y-tick');
  });
  o.names.forEach((n,i) => {
    mk(g, 'circle', {cx: o.sx(o.rich[i]).toFixed(1), cy: rowY(i).toFixed(1), r: (o.a*Math.sqrt(o.gene[i])).toFixed(1), fill: qColor(o.q[i])}, o.key + '-pathway-dot');
  });
  mk(g, 'path', {d: 'M'+b.x0+' '+b.y0+'H'+b.x1+'V'+b.y1, fill: 'none', stroke: o.frame, 'stroke-width': 3}, o.key + '-plot-frame');
  mk(g, 'line', {x1: b.x0, x2: b.x0, y1: b.y0, y2: b.y1+2, stroke: '#111', 'stroke-width': 5}, o.key + '-y-axis-line');
  mk(g, 'line', {x1: b.x0-2, x2: b.x1, y1: b.y1, y2: b.y1, stroke: '#111', 'stroke-width': 5}, o.key + '-x-axis-line');
  o.xTicks.forEach((v,i) => {
    mk(g, 'line', {x1: o.sx(v), x2: o.sx(v), y1: b.y1, y2: b.y1+8, stroke: '#333', 'stroke-width': 3}, o.key + '-x-tick');
    txt(g, o.sx(v), o.tickY, o.xLabels[i], 34, 'middle', '#222', o.key + '-x-tick-label');
  });
  /* colour bar */
  const c = o.bar;
  const defs = mk(g, 'defs', {}, o.key + '-colorbar-defs');
  const grad = mk(defs, 'linearGradient', {id: o.key+'Grad', x1: 0, y1: 0, x2: 0, y2: 1}, o.key + '-colorbar-gradient');
  mk(grad, 'stop', {offset: '0', 'stop-color': '#D04A3F'}, o.key + '-gradient-stop-high');
  mk(grad, 'stop', {offset: '0.5', 'stop-color': lerpColor('#3C96E6','#D04A3F',0.5)}, o.key + '-gradient-stop-mid');
  mk(grad, 'stop', {offset: '1', 'stop-color': '#3C96E6'}, o.key + '-gradient-stop-low');
  mk(g, 'rect', {x: c.x0, y: c.y0, width: c.x1-c.x0, height: c.y1-c.y0, fill: 'url(#'+o.key+'Grad)'}, o.key + '-colorbar');
  const qY = linear(o.qMin, c.y1, o.qMax, c.y0);
  o.colorTicks.forEach(v => {
    const y = qY(v);
    mk(g, 'line', {x1: c.x0, x2: c.x0+8, y1: y, y2: y, stroke: '#fff', 'stroke-width': 2}, o.key + '-colorbar-tick');
    mk(g, 'line', {x1: c.x1-8, x2: c.x1, y1: y, y2: y, stroke: '#fff', 'stroke-width': 2}, o.key + '-colorbar-tick');
    txt(g, c.labelX, y+12, String(v), 34, 'start', '#222', o.key + '-colorbar-tick-label');
  });
  /* size legend */
  const s = o.sizeLegend;
  o.sizeTicks.forEach((v,i) => {
    const y = s.y + i*s.step;
    mk(g, 'circle', {cx: s.x, cy: y, r: (o.a*Math.sqrt(v)).toFixed(1), fill: '#000'}, o.key + '-size-legend-dot');
    txt(g, s.labelX, y+12, String(v), 34, 'start', '#222', o.key + '-size-legend-label');
  });
}

/* ---------- Heatmap ---------- */
function drawHeatmap() {
  const g = document.getElementById('panelG');
  const rows = [gRow1, gRow2, gRow3, gRow4];
  const cx = linear(0, 571, 6, 1052);
  const cy = linear(0, 4175.5, 4, 4497);
  const colorFor = v => v < 0 ? lerpColor('#F4F4F4', '#62A6D0', -v/1.3) : lerpColor('#F4F4F4', '#F08558', v/1.4);
  rows.forEach((row,r) => row.forEach((v,c) => {
    mk(g, 'rect', {x: cx(c), y: cy(r), width: cx(1)-cx(0), height: cy(1)-cy(0), fill: colorFor(v), stroke: '#ececec', 'stroke-width': 3.5}, 'heatmap-cell');
  }));
  gGenes.forEach((name,r) => {
    txt(g, 1081, cy(r+0.5)+13, name, 36, 'start', '#333', 'heatmap-gene-label', {'font-style': 'italic'});
  });
  gSamples.forEach((name,c) => {
    const x = cx(c+0.5);
    const y = 4546;
    txt(g, 0, 0, name, 37, 'start', '#555', 'heatmap-sample-label', {transform: 'translate('+(x-5)+','+(y+8)+') rotate(45)'});
  });
  /* dendrogram */
  const leaf = 567;
  const stroke = {fill: 'none', stroke: '#555', 'stroke-width': 4};
  const rowMid = r => cy(r+0.5) - 4;
  const nx = i => leaf - gDendroHeights[i];
  const y1 = (rowMid(0)+rowMid(1))/2, y2 = (rowMid(2)+rowMid(3))/2;
  mk(g, 'path', Object.assign({d: 'M'+leaf+' '+rowMid(0)+'H'+nx(0)+'V'+rowMid(1)+'H'+leaf}, stroke), 'dendrogram-branch-top');
  mk(g, 'path', Object.assign({d: 'M'+leaf+' '+rowMid(2)+'H'+nx(1)+'V'+rowMid(3)+'H'+leaf}, stroke), 'dendrogram-branch-bottom');
  mk(g, 'path', Object.assign({d: 'M'+nx(0)+' '+y1+'H'+nx(2)+'V'+y2+'H'+nx(1)}, stroke), 'dendrogram-root');
  /* colour bar */
  const defs = mk(g, 'defs', {}, 'heatmap-colorbar-defs');
  const grad = mk(defs, 'linearGradient', {id: 'gGrad', x1: 0, y1: 0, x2: 0, y2: 1}, 'heatmap-colorbar-gradient');
  mk(grad, 'stop', {offset: '0', 'stop-color': '#F08558'}, 'heatmap-gradient-stop-high');
  mk(grad, 'stop', {offset: '0.54', 'stop-color': '#F4F4F4'}, 'heatmap-gradient-stop-mid');
  mk(grad, 'stop', {offset: '1', 'stop-color': '#5FA5CF'}, 'heatmap-gradient-stop-low');
  mk(g, 'rect', {x: 1437, y: 4175, width: 48, height: 322, fill: 'url(#gGrad)'}, 'heatmap-colorbar');
  const barY = linear(1, 4224, 0, 4349);
  gColorTicks.forEach((v,i) => {
    mk(g, 'line', {x1: 1485, x2: 1510, y1: barY(v), y2: barY(v), stroke: '#333', 'stroke-width': 4}, 'heatmap-colorbar-tick');
    txt(g, v < 0 ? 1541 : 1535, barY(v)+16, gColorTickLabels[i], 44, 'middle', '#222', 'heatmap-colorbar-tick-label');
  });
}

/* ---------- Render ---------- */
drawVolcano({id:'panelA', key:'a', box:{x0:212,x1:1504,y0:183,y1:1220}, r:4.7,
  sx: linear(0,907,10,1307), sy: linear(1.3,1168,106,540),
  downPts:aDownPoints, upPts:aUpPoints,
  downX:aDownBandX, downTop:aDownBandTop, downBottom:aDownBandBottom,
  upX:aUpBandX, upTop:aUpBandTop, upBottom:aUpBandBottom,
  greyX:aGreyX, greyTop:aGreyTop, greyBottom:aGreyBottom,
  xTicks:aXTicks, xLabels:aXTickLabels, yTicks:aYTicks, yLabels:aYTickLabels, tickDy:52});

drawVolcano({id:'panelD', key:'d', box:{x0:2123,x1:3412,y0:1465,y1:2503}, r:5,
  sx: linear(0,2776.3,10,3205.3), sy: linear(1.3,2453,174,1819.5),
  downPts:dDownPoints, upPts:dUpPoints,
  downX:dDownBandX, downTop:dDownBandTop, downBottom:dDownBandBottom,
  upX:dUpBandX, upTop:dUpBandTop, upBottom:dUpBandBottom,
  greyX:dGreyX, greyTop:dGreyTop, greyBottom:dGreyBottom,
  xTicks:dXTicks, xLabels:dXTickLabels, yTicks:dYTicks, yLabels:dYTickLabels, tickDy:48});

drawBars({id:'panelB', key:'b', box:{x0:2704,x1:3407,y0:161,y1:1259},
  sx: linear(0,2704,90,3259), terms:bTerms, counts:bCounts, typeSizes:bTypeSizes, stars:bStarred,
  y0:183, y1:1239, barH:34, labelX:2686, labelDy:12, size:35.5, xTicks:bXTicks, xLabels:bXTickLabels, tickY:1304, frame:'#999'});

drawBars({id:'panelE', key:'e', box:{x0:976.5,x1:1498,y0:2802,y1:3963},
  sx: linear(0,976.5,100,1453), terms:eTerms, counts:eCounts, typeSizes:eTypeSizes, stars:eStarred,
  y0:2826, y1:3942, barH:35, labelX:963, labelDy:12, size:35.4, xTicks:eXTicks, xLabels:eXTickLabels, tickY:4010, frame:'#bbb'});

drawDots({id:'panelC', key:'c', box:{x0:670,x1:1574,y0:1500.5,y1:2627},
  sx: linear(0.25,858,0.35,1358), names:cPathways, rich:cRichFactor, gene:cGeneNumber, q:cQValue,
  y0:1534.5, y1:2592.5, labelX:656, size:35.4, a:2.45, qMin:0.4, qMax:3.91, frame:'#444',
  xTicks:cXTicks, xLabels:cXTickLabels, tickY:2672, colorTicks:cColorTicks, sizeTicks:cSizeTicks,
  bar:{x0:1615,x1:1658,y0:1863,y1:2079,labelX:1684}, sizeLegend:{x:1637,y:2196,step:44.5,labelX:1678}});

drawDots({id:'panelF', key:'f', box:{x0:2456,x1:3144,y0:2804,y1:3971},
  sx: linear(0.20,2462,0.36,3100), names:fPathways, rich:fRichFactor, gene:fGeneNumber, q:fQValue,
  y0:2839, y1:3937, labelX:2445, size:35.4, a:2.35, qMin:0.8, qMax:5.88, frame:'#999',
  xTicks:fXTicks, xLabels:fXTickLabels, tickY:4018, colorTicks:fColorTicks, sizeTicks:fSizeTicks,
  bar:{x0:3189,x1:3230,y0:3179,y1:3405,labelX:3250}, sizeLegend:{x:3210,y:3529.5,step:45.2,labelX:3247}});

drawHeatmap();
</script>
</body>
</html>
